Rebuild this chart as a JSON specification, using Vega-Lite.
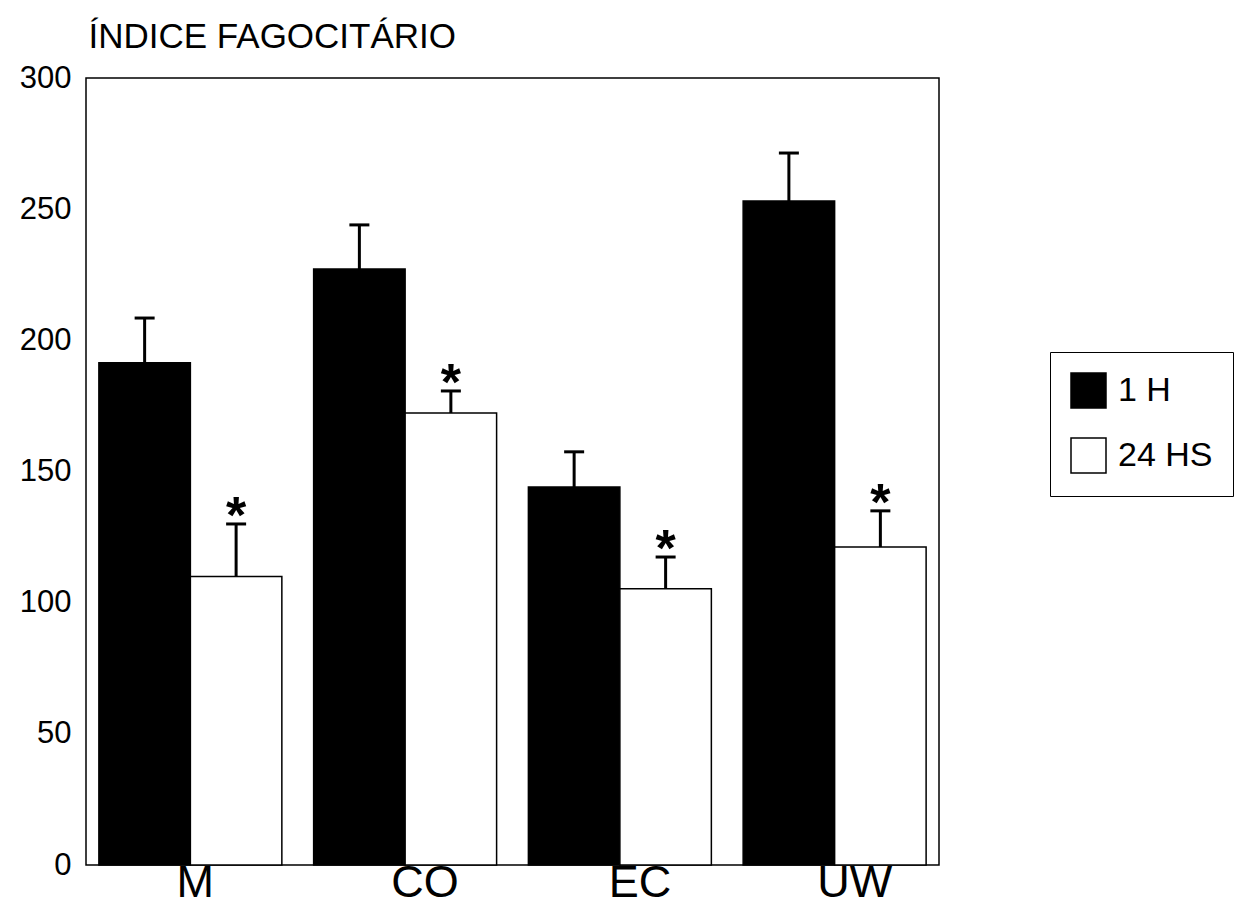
{
  "$schema": "https://vega.github.io/schema/vega-lite/v6.json",
  "width": 853,
  "height": 787,
  "autosize": {"type": "none"},
  "padding": {"left": 86, "top": 78, "right": 300, "bottom": 41},
  "background": "white",
  "config": {"view": {"stroke": "black", "strokeWidth": 1.5}, "font": "Liberation Sans"},
  "data": {"values": [
    {"group": "M", "series": "1 H", "value": 191.5, "upper": 208.5, "star": false},
    {"group": "M", "series": "24 HS", "value": 110, "upper": 130, "star": true},
    {"group": "CO", "series": "1 H", "value": 227.2, "upper": 244, "star": false},
    {"group": "CO", "series": "24 HS", "value": 172.3, "upper": 180.7, "star": true},
    {"group": "EC", "series": "1 H", "value": 144.1, "upper": 157.5, "star": false},
    {"group": "EC", "series": "24 HS", "value": 105.3, "upper": 117.4, "star": true},
    {"group": "UW", "series": "1 H", "value": 253.1, "upper": 271.4, "star": false},
    {"group": "UW", "series": "24 HS", "value": 121.2, "upper": 135, "star": true}
  ]},
  "encoding": {
    "x": {"field": "group", "type": "nominal", "sort": ["M", "CO", "EC", "UW"],
      "scale": {"paddingInner": 0.148, "paddingOuter": 0.06},
      "axis": {"title": null, "labelAngle": 0, "domain": false, "ticks": false, "grid": false,
        "labelFontSize": 45, "labelFont": "Liberation Sans", "labelColor": "black", "labelPadding": -5,
        "labelOffset": {"condition": {"test": "datum.value === 'M'", "value": 5}, "value": 20}}},
    "xOffset": {"field": "series", "type": "nominal", "sort": ["1 H", "24 HS"]}
  },
  "layer": [
    {
      "mark": {"type": "bar", "stroke": "black", "strokeWidth": 1.5},
      "encoding": {
        "y": {"field": "value", "type": "quantitative", "scale": {"domain": [0, 300], "nice": false},
          "axis": {"title": "ÍNDICE FAGOCITÁRIO", "titleAngle": 0, "titleX": 2, "titleY": -31, "titleAlign": "left",
            "titleBaseline": "alphabetic", "titleFontSize": 35, "titleFontWeight": "normal", "titleColor": "black", "titleFont": "Liberation Sans",
            "values": [0, 50, 100, 150, 200, 250, 300], "domain": false, "ticks": false, "grid": false,
            "labelFontSize": 31, "labelFont": "Liberation Sans", "labelColor": "black", "labelPadding": 15, "labelFlush": false}},
        "fill": {"field": "series", "type": "nominal",
          "scale": {"domain": ["1 H", "24 HS"], "range": ["black", "white"]},
          "legend": {"orient": "none", "legendX": 964, "legendY": 274, "title": null, "symbolType": "square",
            "symbolSize": 1225, "symbolStrokeColor": "black", "symbolStrokeWidth": 1.5, "symbolOpacity": 1,
            "labelFontSize": 34, "labelFont": "Liberation Sans", "labelColor": "black", "labelOffset": 11,
            "strokeColor": "black", "fillColor": "white", "padding": 20, "rowPadding": 24, "cornerRadius": 0}}
      }
    },
    {
      "mark": {"type": "rule", "strokeWidth": 3, "color": "black"},
      "encoding": {"y": {"field": "value", "type": "quantitative"}, "y2": {"field": "upper"}}
    },
    {
      "mark": {"type": "tick", "color": "black", "thickness": 3, "size": 20, "opacity": 1},
      "encoding": {"y": {"field": "upper", "type": "quantitative"}}
    },
    {
      "transform": [{"filter": "datum.star"}],
      "mark": {"type": "text", "text": "*", "fontSize": 52, "fontWeight": "bold", "baseline": "alphabetic", "dy": 9, "color": "black", "font": "Liberation Sans"},
      "encoding": {"y": {"field": "upper", "type": "quantitative"}}
    }
  ]
}
